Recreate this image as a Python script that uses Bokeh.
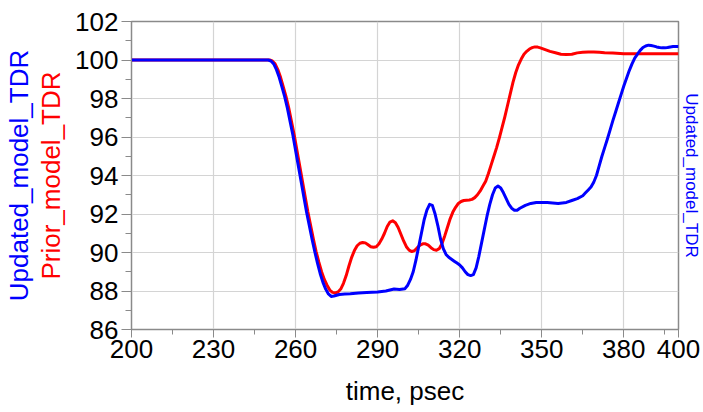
from bokeh.plotting import figure
from bokeh.models import Range1d, FixedTicker, LinearAxis
from bokeh.embed import file_html
from bokeh.resources import INLINE

# ---- data -------------------------------------------------------------
updated_t = [200, 250, 251, 252, 253, 254, 255, 256, 257, 258, 259, 260, 261, 262,
             263, 264, 265, 266, 267, 268, 269, 270, 271, 272, 273, 274, 276, 278,
             280, 283, 286, 290, 293, 296, 298, 300, 301, 302, 303, 304, 305, 306,
             307, 308, 309, 310, 311, 312, 313, 314, 315, 316, 317, 318, 319, 320,
             321, 322, 323, 324, 325, 326, 327, 328, 329, 330, 331, 332, 333, 334,
             335, 336, 337, 338, 339, 340, 341, 342, 344, 346, 348, 352, 356, 359,
             361, 363, 365, 366, 367, 368, 369, 370, 371, 372, 373, 374, 375, 376,
             377, 378, 379, 380, 381, 382, 383, 384, 385, 386, 387, 388, 389, 390,
             391, 392, 393, 394, 395, 396, 397, 398, 400]
updated_tdr = [100, 100, 99.95, 99.8, 99.5, 99.1, 98.6, 98.1, 97.5, 96.8, 96.1, 95.3,
               94.5, 93.7, 92.9, 92.1, 91.4, 90.7, 90.05, 89.45, 88.9, 88.45, 88.1,
               87.85, 87.72, 87.74, 87.82, 87.84, 87.86, 87.9, 87.92, 87.95, 88.0,
               88.1, 88.08, 88.12, 88.3, 88.6, 89.0, 89.6, 90.3, 91.0, 91.7, 92.2,
               92.5, 92.45, 92.0, 91.4, 90.7, 90.2, 89.9, 89.75, 89.65, 89.55, 89.45,
               89.35, 89.2, 89.0, 88.85, 88.8, 88.85, 89.2, 89.8, 90.5, 91.2, 91.9,
               92.5, 93.0, 93.35, 93.45, 93.35, 93.1, 92.8, 92.5, 92.3, 92.2, 92.2,
               92.3, 92.45, 92.55, 92.6, 92.6, 92.55, 92.6, 92.7, 92.8, 92.95, 93.1,
               93.25, 93.4, 93.65, 94.0, 94.5, 95.0, 95.45, 95.9, 96.37, 96.85, 97.3,
               97.75, 98.2, 98.65, 99.05, 99.45, 99.8, 100.1, 100.3, 100.5, 100.65,
               100.73, 100.77, 100.75, 100.72, 100.68, 100.65, 100.63, 100.63, 100.65,
               100.68, 100.7, 100.7]

prior_t = [200, 250.5, 251.5, 252.5, 253.5, 254.5, 255.5, 256.5, 257.5, 258.5, 259.5,
           260.5, 261.5, 262.5, 263.5, 264.5, 265.5, 266.5, 267.5, 268.5, 269.5,
           270.5, 271.5, 272.5, 273.5, 274.5, 275.5, 276.5, 277.5, 278.5, 279.5,
           280.5, 281.5, 282.5, 283.5, 284.5, 285.5, 286.5, 287.5, 288.5, 289.5,
           290.5, 291.5, 292.5, 293.5, 294.5, 295.5, 296.5, 297.5, 298.5, 299.5,
           300.5, 301.5, 302.5, 303.5, 304.5, 305.5, 306.5, 307.5, 308.5, 309.5,
           310.5, 311.5, 312.5, 313.5, 314.5, 315.5, 316.5, 317.5, 318.5, 319.5,
           320.5, 321.5, 322.5, 323.5, 324.5, 325.5, 326.5, 327.5, 328.5, 329.5,
           330.5, 331.5, 332.5, 333.5, 334.5, 335.5, 336.5, 337.5, 338.5, 339.5,
           340.5, 341.5, 342.5, 343.5, 344.5, 345.5, 346.5, 347.5, 348.5, 349.5,
           351, 353, 355, 357, 359, 361, 363, 365, 367, 369, 371, 373, 376, 380,
           385, 390, 400]
prior_tdr = [100, 100, 99.95, 99.8, 99.5, 99.1, 98.6, 98.1, 97.5, 96.8, 96.1, 95.3,
             94.5, 93.7, 92.9, 92.1, 91.4, 90.7, 90.05, 89.5, 89.0, 88.6, 88.3, 88.05,
             87.93, 87.9, 87.95, 88.1, 88.4, 88.8, 89.3, 89.75, 90.1, 90.35, 90.48,
             90.52, 90.5, 90.4, 90.3, 90.27, 90.3, 90.45, 90.7, 91.0, 91.35, 91.58,
             91.65, 91.55, 91.3, 90.95, 90.6, 90.3, 90.12, 90.05, 90.1, 90.25, 90.38,
             90.45, 90.45, 90.38, 90.25, 90.15, 90.12, 90.2, 90.45, 90.85, 91.3,
             91.75, 92.1, 92.35, 92.55, 92.65, 92.7, 92.72, 92.73, 92.76, 92.85, 93.0,
             93.2, 93.45, 93.7, 94.1, 94.55, 95.0, 95.45, 95.95, 96.5, 97.05, 97.65,
             98.25, 98.85, 99.35, 99.75, 100.05, 100.3, 100.45, 100.57, 100.64,
             100.68, 100.67, 100.63, 100.55, 100.45, 100.38, 100.3, 100.28, 100.3,
             100.37, 100.4, 100.42, 100.42, 100.4, 100.38, 100.36, 100.33, 100.32,
             100.32, 100.32]

x_major_ticks = [200, 230, 260, 290, 320, 350, 380, 400]
x_minor_ticks = [215, 245, 275, 305, 335, 365, 395]
y_major_ticks = [86, 88, 90, 92, 94, 96, 98, 100, 102]
y_minor_ticks = [87, 89, 91, 93, 95, 97, 99, 101]

FONT = "Liberation Sans"
AXIS_GRAY = "#8a8a8a"

p = figure(width=703, height=408, output_backend="svg", toolbar_location=None,
           x_range=Range1d(200, 400), y_range=Range1d(86, 102),
           min_border_left=0, min_border_right=25, min_border_top=21,
           min_border_bottom=0)
p.background_fill_color = "white"
p.border_fill_color = "white"
p.outline_line_color = AXIS_GRAY
p.outline_line_width = 1.5

p.line(prior_t, prior_tdr, line_color="#ff0000", line_width=3, line_join="round")
p.line(updated_t, updated_tdr, line_color="#0000ff", line_width=3, line_join="round")

# x axis
xa = p.xaxis[0]
xa.ticker = FixedTicker(ticks=x_major_ticks, minor_ticks=x_minor_ticks)
xa.axis_label = "time, psec"
xa.axis_label_text_font = FONT
xa.axis_label_text_font_size = "26px"
xa.axis_label_text_font_style = "normal"
xa.axis_label_text_color = "black"
xa.axis_label_standoff = 15
xa.major_label_text_font = FONT
xa.major_label_text_font_size = "26px"
xa.major_label_text_color = "black"
xa.major_label_standoff = 2
xa.major_tick_out = 8
xa.major_tick_in = 0
xa.minor_tick_out = 5
xa.minor_tick_in = 0
xa.axis_line_color = AXIS_GRAY
xa.major_tick_line_color = AXIS_GRAY
xa.minor_tick_line_color = AXIS_GRAY

# y axis (nearest: Prior)
ya = p.yaxis[0]
ya.ticker = FixedTicker(ticks=y_major_ticks, minor_ticks=y_minor_ticks)
ya.axis_label = "Prior_model_TDR"
ya.axis_label_text_font = FONT
ya.axis_label_text_font_size = "26px"
ya.axis_label_text_font_style = "normal"
ya.axis_label_text_color = "#ff0000"
ya.axis_label_standoff = 6
ya.major_label_text_font = FONT
ya.major_label_text_font_size = "26px"
ya.major_label_text_color = "black"
ya.major_label_standoff = 3
ya.major_tick_out = 10
ya.major_tick_in = 0
ya.minor_tick_out = 6
ya.minor_tick_in = 0
ya.axis_line_color = AXIS_GRAY
ya.major_tick_line_color = AXIS_GRAY
ya.minor_tick_line_color = AXIS_GRAY

# outer left label (Updated)
ya2 = LinearAxis(ticker=FixedTicker(ticks=[]), axis_label="Updated_model_TDR",
                 axis_label_text_font=FONT, axis_label_text_font_size="26px",
                 axis_label_text_font_style="normal", axis_label_text_color="#0000ff",
                 axis_label_standoff=0, axis_line_color=None,
                 major_tick_line_color=None, minor_tick_line_color=None,
                 major_tick_out=0, minor_tick_out=0, major_label_standoff=0)
p.add_layout(ya2, "left")

# right-hand label (in the narrow strip right of the plot)
ra = LinearAxis(ticker=FixedTicker(ticks=[]), axis_label="Updated_model_TDR",
                axis_label_text_font=FONT, axis_label_text_font_size="17px",
                axis_label_text_font_style="normal", axis_label_text_color="#0000ff",
                axis_label_standoff=3, axis_line_color=None,
                major_tick_line_color=None, minor_tick_line_color=None,
                major_tick_out=0, minor_tick_out=0, major_label_standoff=0)
p.add_layout(ra, "right")

p.xgrid.ticker = FixedTicker(ticks=x_major_ticks)
p.ygrid.ticker = FixedTicker(ticks=y_major_ticks)
p.xgrid.grid_line_color = "#d4d4d4"
p.ygrid.grid_line_color = "#d4d4d4"
p.xgrid.grid_line_width = 1.2
p.ygrid.grid_line_width = 1.2

open("out.html", "w").write(file_html(p, INLINE))
